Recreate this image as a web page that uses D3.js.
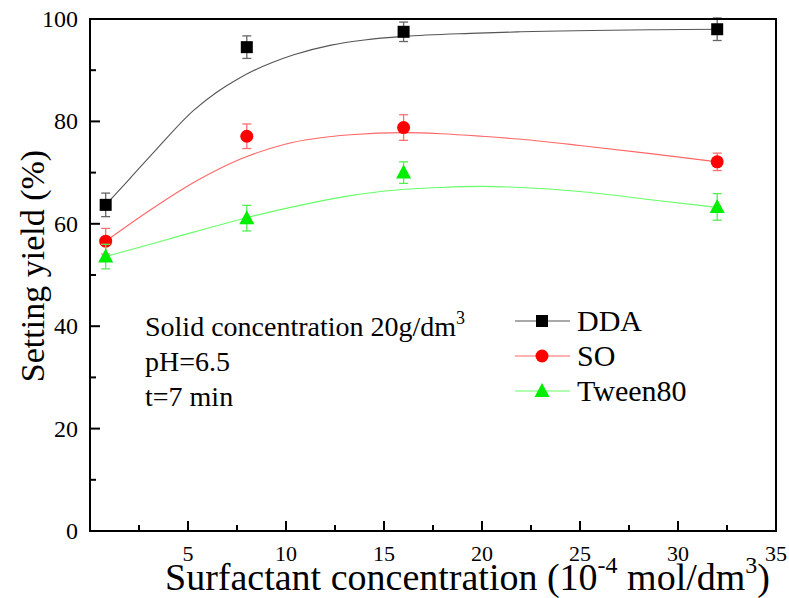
<!DOCTYPE html>
<html><head><meta charset="utf-8">
<script src="https://cdn.jsdelivr.net/npm/d3@7"></script>
<style>
body{margin:0;background:#fff;}
svg text{font-family:"Liberation Serif","Times New Roman",serif;fill:#000;}
</style></head>
<body><svg id="c" width="789" height="598"></svg>
<script>
// ---- data ----
const xConc = [0.8, 8, 16, 32];
const ddaY = [63.7, 94.5, 97.5, 98.0];
const ddaErr = [2.3, 2.2, 1.9, 2.2];
const soY = [56.6, 77.1, 78.8, 72.1];
const soErr = [2.5, 2.4, 2.5, 1.7];
const tweenY = [53.6, 61.1, 70.0, 63.3];
const tweenErr = [2.4, 2.5, 2.1, 2.6];
// fitted curves
const ddaFitX = [0.8, 2, 3.4, 5.3, 6.5, 7.5, 8.5, 9.3, 10.4, 12.3, 14, 16, 19.4, 22, 28.6, 32];
const ddaFitY = [63.7, 68.7, 74.6, 82.2, 85.8, 88.2, 90.2, 91.5, 93.0, 94.9, 95.9, 96.6, 97.2, 97.5, 97.9, 98.0];
const soFitX = [0.8, 3, 5.4, 7.65, 10, 13.3, 16, 17.9, 20, 22, 25, 28.6, 32];
const soFitY = [56.6, 62.5, 68.3, 72.6, 75.6, 77.4, 77.8, 77.6, 77.1, 76.5, 75.3, 73.7, 72.1];
const twFitX = [0.8, 4, 7.8, 10.7, 13.3, 15.3, 17.9, 20, 22, 25, 28.6, 32];
const twFitY = [53.6, 57.0, 61.0, 63.6, 65.5, 66.5, 67.1, 67.3, 67.1, 66.3, 64.7, 63.2];
const xTicks = [5, 10, 15, 20, 25, 30, 35];
const yTicks = [0, 20, 40, 60, 80, 100];
const legendNames = ["DDA", "SO", "Tween80"];

// ---- layout ----
const FONT = "Liberation Serif, Times New Roman, serif";
const svg = d3.select("#c");
const L = 90, R = 776, T = 19, B = 531;
const x = d3.scaleLinear().domain([0, 35]).range([L, R]);
const y = d3.scaleLinear().domain([0, 100]).range([B, T]);

const series = [
  {name: legendNames[0], ys: ddaY, err: ddaErr, fx: ddaFitX, fy: ddaFitY, line: "#555", errc: "#666", fill: "#000", shape: "square"},
  {name: legendNames[1], ys: soY, err: soErr, fx: soFitX, fy: soFitY, line: "#ff6666", errc: "#ff7070", fill: "#ff0000", shape: "circle"},
  {name: legendNames[2], ys: tweenY, err: tweenErr, fx: twFitX, fy: twFitY, line: "#66ff66", errc: "#55ee55", fill: "#00ee00", shape: "triangle"}
];

function marker(g, shape, cx, cy, color) {
  if (shape === "square") {
    g.append("rect").attr("x", cx - 6).attr("y", cy - 6).attr("width", 12).attr("height", 12).attr("fill", color);
  } else if (shape === "circle") {
    g.append("circle").attr("cx", cx).attr("cy", cy).attr("r", 6.5).attr("fill", color);
  } else {
    g.append("path").attr("d", `M${cx},${cy - 8}L${cx + 7.5},${cy + 6}L${cx - 7.5},${cy + 6}Z`).attr("fill", color);
  }
}

// curves
const lineGen = d3.line().curve(d3.curveMonotoneX);
series.forEach(s => {
  const pts = s.fx.map((v, i) => [x(v), y(s.fy[i])]);
  svg.append("path").attr("d", lineGen(pts)).attr("fill", "none").attr("stroke", s.line).attr("stroke-width", 1.1);
});

// error bars and markers
series.forEach(s => {
  const g = svg.append("g");
  xConc.forEach((xv, i) => {
    const cx = x(xv), y1 = y(s.ys[i] + s.err[i]), y2 = y(s.ys[i] - s.err[i]);
    g.append("line").attr("x1", cx).attr("x2", cx).attr("y1", y1).attr("y2", y2).attr("stroke", s.errc).attr("stroke-width", 1.3);
    [y1, y2].forEach(yy => g.append("line").attr("x1", cx - 4.5).attr("x2", cx + 4.5).attr("y1", yy).attr("y2", yy).attr("stroke", s.errc).attr("stroke-width", 1.3));
  });
  xConc.forEach((xv, i) => marker(g, s.shape, x(xv), y(s.ys[i]), s.fill));
});

// frame
svg.append("rect").attr("x", L).attr("y", T).attr("width", R - L).attr("height", B - T)
  .attr("fill", "none").attr("stroke", "#000").attr("stroke-width", 2);

// x axis ticks (inward)
const xMinor = d3.range(2.5, 35, 5);
xTicks.forEach(t => svg.append("line").attr("x1", x(t)).attr("x2", x(t)).attr("y1", B).attr("y2", B - 10).attr("stroke", "#000").attr("stroke-width", 2));
xMinor.forEach(t => svg.append("line").attr("x1", x(t)).attr("x2", x(t)).attr("y1", B).attr("y2", B - 6).attr("stroke", "#000").attr("stroke-width", 2));
xTicks.forEach(t => svg.append("text").attr("font-family", FONT).attr("x", x(t)).attr("y", 561).attr("text-anchor", "middle").attr("font-size", 22).text(t));

// y axis ticks (inward)
const yMinor = d3.range(10, 100, 20);
yTicks.forEach(t => svg.append("line").attr("x1", L).attr("x2", L + 10).attr("y1", y(t)).attr("y2", y(t)).attr("stroke", "#000").attr("stroke-width", 2));
yMinor.forEach(t => svg.append("line").attr("x1", L).attr("x2", L + 6).attr("y1", y(t)).attr("y2", y(t)).attr("stroke", "#000").attr("stroke-width", 2));
yTicks.forEach(t => svg.append("text").attr("font-family", FONT).attr("x", 78).attr("y", y(t) + 8).attr("text-anchor", "end").attr("font-size", 24).text(t));

// axis titles
svg.append("text").attr("font-family", FONT).attr("transform", `translate(44,266) rotate(-90)`).attr("text-anchor", "middle").attr("font-size", 34).text("Setting yield (%)");
const xt = svg.append("text").attr("font-family", FONT).attr("x", 165).attr("y", 590).attr("font-size", 38);
xt.append("tspan").text("Surfactant concentration (10");
xt.append("tspan").attr("dy", -17).attr("font-size", 24).text("-4");
xt.append("tspan").attr("dy", 17).text(" mol/dm");
xt.append("tspan").attr("dy", -17).attr("font-size", 24).text("3");
xt.append("tspan").attr("dy", 17).text(")");

// annotation
const ann = svg.append("g");
const a1 = ann.append("text").attr("font-family", FONT).attr("x", 145).attr("y", 336).attr("font-size", 28);
a1.append("tspan").text("Solid concentration 20g/dm");
a1.append("tspan").attr("dy", -12).attr("font-size", 18).text("3");
ann.append("text").attr("font-family", FONT).attr("x", 145).attr("y", 371).attr("font-size", 28).text("pH=6.5");
ann.append("text").attr("font-family", FONT).attr("x", 145).attr("y", 406).attr("font-size", 28).text("t=7 min");

// legend
series.forEach((s, i) => {
  const ly = 321 + i * 35;
  const g = svg.append("g");
  g.append("line").attr("x1", 515).attr("x2", 570).attr("y1", ly).attr("y2", ly).attr("stroke", s.line).attr("stroke-width", 1.1);
  marker(g, s.shape, 542, ly, s.fill);
  g.append("text").attr("font-family", FONT).attr("x", 577).attr("y", ly + 10).attr("font-size", 30).text(s.name);
});
</script></body></html>
